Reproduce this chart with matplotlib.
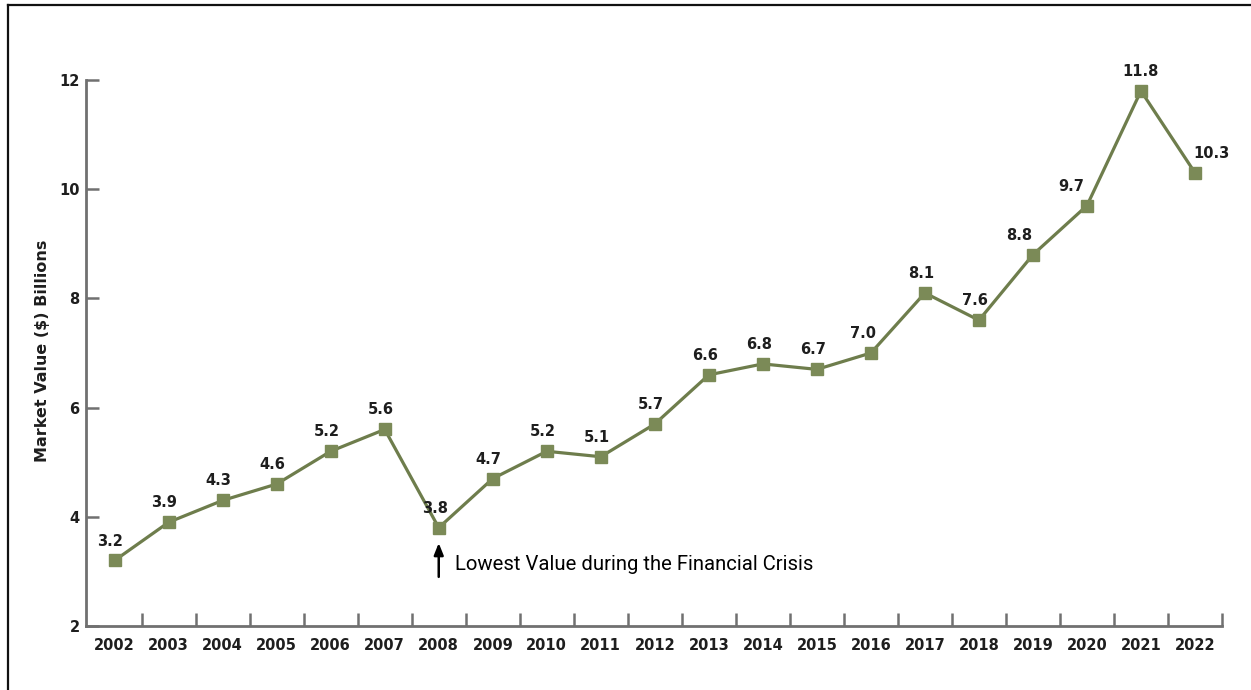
import matplotlib
matplotlib.use("Agg")
import matplotlib.pyplot as plt
from matplotlib.lines import Line2D

years = list(range(2002, 2023))
values = [3.2, 3.9, 4.3, 4.6, 5.2, 5.6, 3.8, 4.7, 5.2, 5.1, 5.7,
          6.6, 6.8, 6.7, 7.0, 8.1, 7.6, 8.8, 9.7, 11.8, 10.3]
value_labels = [f"{v:.1f}" for v in values]
y_ticks = [2, 4, 6, 8, 10, 12]
annotation_text = "Lowest Value during the Financial Crisis"
y_label = "Market Value ($) Billions"

# horizontal offsets (points) of value labels relative to markers
label_dx = {2016: -6, 2019: -10, 2020: -11, 2021: 0, 2022: 12}

line_color = "#6e7d4c"
marker_color = "#7b8a57"
axis_color = "#707070"
text_color = "#1e1e1e"

fig = plt.figure(figsize=(12.51, 6.90), dpi=100)
ax = fig.add_axes([86 / 1251, 1 - 626 / 690, (1222 - 86) / 1251, (626 - 80) / 690])

ax.plot(years, values, color=line_color, lw=2.3, marker="s", markersize=8.5,
        markerfacecolor=marker_color, markeredgecolor=marker_color, clip_on=False, zorder=3)

for yr, v, lab in zip(years, values, value_labels):
    dx = label_dx.get(yr, -3)
    ax.annotate(lab, xy=(yr, v), xytext=(dx, 14), textcoords="offset points",
                ha="center", va="center", fontsize=10.5, fontweight="bold",
                color=text_color)

ax.set_xlim(2001.47, 2022.5)
ax.set_ylim(2, 12)

for s in ["top", "right"]:
    ax.spines[s].set_visible(False)
for s in ["left", "bottom"]:
    ax.spines[s].set_color(axis_color)
    ax.spines[s].set_linewidth(2.0)

ax.set_yticks(y_ticks)
ax.set_yticklabels([str(t) for t in y_ticks])
ax.tick_params(axis="y", direction="in", length=9.5, width=1.8, color=axis_color,
               pad=4.5, labelsize=10.5, labelcolor=text_color)
for lab in ax.get_yticklabels():
    lab.set_fontweight("bold")

ax.set_xticks(years)
ax.set_xticklabels([str(y) for y in years])
ax.tick_params(axis="x", which="major", length=0, pad=8.5, labelsize=10.5, labelcolor=text_color)
for lab in ax.get_xticklabels():
    lab.set_fontweight("bold")
ax.set_xticks([y + 0.5 for y in years], minor=True)
ax.tick_params(axis="x", which="minor", direction="in", length=9.5, width=1.8, color=axis_color)

fig.text(43 / 1251, 1 - 351 / 690, y_label, rotation=90, ha="center", va="center",
         fontsize=11.5, fontweight="bold", color=text_color)

# annotation arrow and text
ax.annotate("", xy=(2008, 3.52), xytext=(2008, 2.90),
            arrowprops=dict(arrowstyle="-|>,head_length=0.7,head_width=0.28",
                            color="black", lw=1.8, shrinkA=0, shrinkB=0))
ax.text(2008.31, 3.12, annotation_text, ha="left", va="center",
        fontsize=14.6, family=["Roboto", "DejaVu Sans"], color="black")

# figure border (left and top)
fig.add_artist(Line2D([7.5 / 1251, 7.5 / 1251], [0, 1 - 4.5 / 690], transform=fig.transFigure,
                      color="#111111", lw=1.6))
fig.add_artist(Line2D([7.5 / 1251, 1], [1 - 4.5 / 690, 1 - 4.5 / 690], transform=fig.transFigure,
                      color="#111111", lw=1.6))

fig.savefig("out.png", dpi=100)
